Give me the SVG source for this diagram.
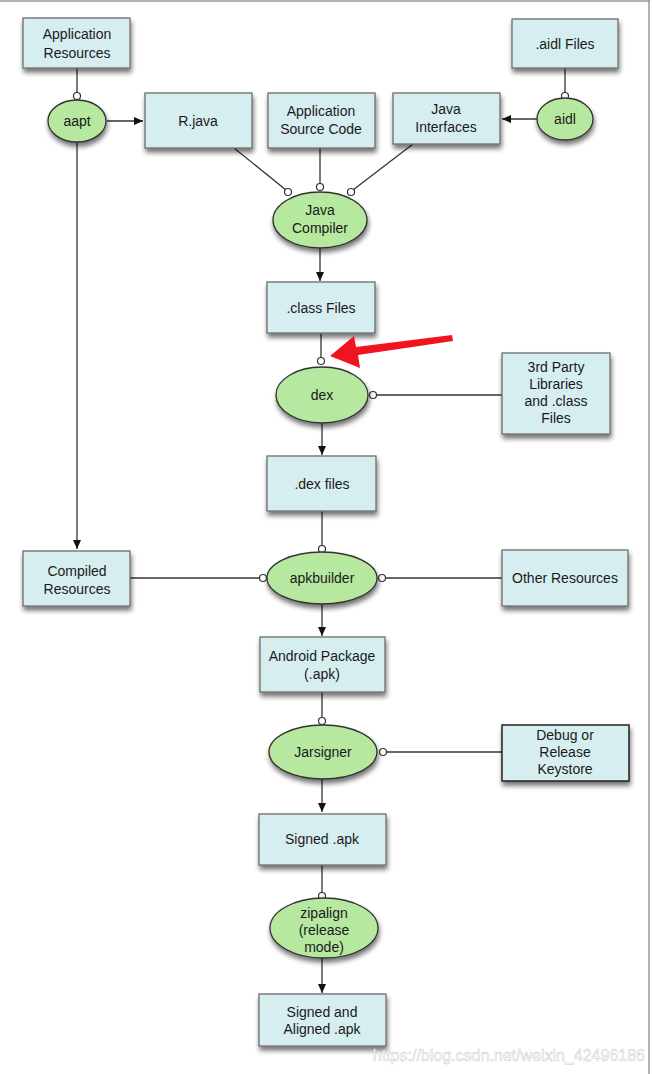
<svg xmlns="http://www.w3.org/2000/svg" width="653" height="1074" viewBox="0 0 653 1074">
<style>
.box{fill:#d7eef0;stroke:#6d6d6d;stroke-width:1.3}
.box2{fill:#d7eef0;stroke:#222;stroke-width:1.5}
.ell{fill:#b6e8a0;stroke:#333;stroke-width:1.3}
.t{font-family:"Liberation Sans",Arial,sans-serif;font-size:14px;fill:#1a1a1a;text-anchor:middle}
.ln{stroke:#333;stroke-width:1.3;fill:none}
.dot{fill:#fff;stroke:#333;stroke-width:1.2}
.wm{font-family:"Liberation Sans",Arial,sans-serif;font-size:16px;fill:#fff;stroke:#ccc;stroke-width:0.5}
</style>
<defs>
<filter id="sh" x="-20%" y="-20%" width="150%" height="160%">
<feGaussianBlur in="SourceAlpha" stdDeviation="2.5"/>
<feOffset dx="1" dy="4" result="b"/>
<feComponentTransfer><feFuncA type="linear" slope="0.55"/></feComponentTransfer>
<feMerge><feMergeNode/><feMergeNode in="SourceGraphic"/></feMerge>
</filter>
<marker id="arr" markerWidth="10" markerHeight="10" refX="9" refY="5" orient="auto" markerUnits="userSpaceOnUse">
<path d="M0,1 L9,5 L0,9 Z" fill="#111"/>
</marker>
</defs>
<rect width="653" height="1074" fill="#fff"/>
<line x1="0" y1="1" x2="650" y2="1" stroke="#999" stroke-width="1.5"/>
<line x1="649" y1="0" x2="649" y2="1074" stroke="#999" stroke-width="1.5"/>

<g id="connectors">
<line class="ln" x1="77" y1="68" x2="77" y2="93"/>
<line class="ln" x1="107" y1="121" x2="143" y2="121" marker-end="url(#arr)"/>
<line class="ln" x1="77" y1="142" x2="77" y2="549" marker-end="url(#arr)"/>
<line class="ln" x1="565" y1="68" x2="565" y2="93"/>
<line class="ln" x1="537" y1="119" x2="502" y2="119" marker-end="url(#arr)"/>
<line class="ln" x1="234" y1="148" x2="286" y2="190"/>
<line class="ln" x1="320" y1="148" x2="320" y2="184"/>
<line class="ln" x1="413" y1="144" x2="353" y2="190"/>
<line class="ln" x1="320" y1="248" x2="320" y2="281" marker-end="url(#arr)"/>
<line class="ln" x1="321" y1="333" x2="321" y2="358"/>
<line class="ln" x1="377" y1="395" x2="502" y2="395"/>
<line class="ln" x1="322" y1="423" x2="322" y2="455" marker-end="url(#arr)"/>
<line class="ln" x1="322" y1="511" x2="322" y2="546"/>
<line class="ln" x1="130" y1="578" x2="260" y2="578"/>
<line class="ln" x1="386" y1="578" x2="502" y2="578"/>
<line class="ln" x1="322" y1="604" x2="322" y2="636" marker-end="url(#arr)"/>
<line class="ln" x1="322" y1="692" x2="322" y2="718"/>
<line class="ln" x1="387" y1="752" x2="502" y2="752"/>
<line class="ln" x1="322" y1="779" x2="322" y2="812" marker-end="url(#arr)"/>
<line class="ln" x1="322" y1="865" x2="322" y2="893"/>
<line class="ln" x1="322" y1="958" x2="322" y2="993" marker-end="url(#arr)"/>
<circle class="dot" cx="77" cy="96" r="3.5"/>
<circle class="dot" cx="565" cy="96" r="3.5"/>
<circle class="dot" cx="288" cy="192" r="3.5"/>
<circle class="dot" cx="320" cy="187" r="3.5"/>
<circle class="dot" cx="351" cy="192" r="3.5"/>
<circle class="dot" cx="321" cy="361" r="3.5"/>
<circle class="dot" cx="373" cy="395" r="3.5"/>
<circle class="dot" cx="322" cy="549" r="3.5"/>
<circle class="dot" cx="263" cy="578" r="3.5"/>
<circle class="dot" cx="382" cy="578" r="3.5"/>
<circle class="dot" cx="322" cy="721" r="3.5"/>
<circle class="dot" cx="383" cy="752" r="3.5"/>
<circle class="dot" cx="322" cy="896" r="3.5"/>
</g>

<g id="app-resources"><rect class="box" x="23" y="18" width="107" height="50" filter="url(#sh)"/><text class="t" x="77" y="39">Application</text><text class="t" x="77" y="58">Resources</text></g>

<g id="aapt"><ellipse class="ell" cx="77" cy="121" rx="29" ry="21" filter="url(#sh)"/><text class="t" x="77" y="126">aapt</text></g>

<g id="rjava"><rect class="box" x="145" y="93" width="107" height="55" filter="url(#sh)"/><text class="t" x="198" y="126">R.java</text></g>

<g id="app-source"><rect class="box" x="268" y="93" width="107" height="55" filter="url(#sh)"/><text class="t" x="321" y="116">Application</text><text class="t" x="321" y="134">Source Code</text></g>

<g id="java-interfaces"><rect class="box" x="393" y="93" width="107" height="51" filter="url(#sh)"/><text class="t" x="446" y="114">Java</text><text class="t" x="446" y="132">Interfaces</text></g>

<g id="aidl-files"><rect class="box" x="512" y="19" width="106" height="49" filter="url(#sh)"/><text class="t" x="565" y="49">.aidl Files</text></g>

<g id="aidl"><ellipse class="ell" cx="565" cy="119" rx="28" ry="21" filter="url(#sh)"/><text class="t" x="565" y="124">aidl</text></g>

<g id="java-compiler"><ellipse class="ell" cx="320" cy="220" rx="47" ry="28" filter="url(#sh)"/><text class="t" x="320" y="215">Java</text><text class="t" x="320" y="233">Compiler</text></g>

<g id="class-files"><rect class="box" x="267" y="282" width="108" height="51" filter="url(#sh)"/><text class="t" x="321" y="313">.class Files</text></g>

<g id="dex"><ellipse class="ell" cx="322" cy="395" rx="46" ry="28" filter="url(#sh)"/><text class="t" x="322" y="400">dex</text></g>

<g id="third-party"><rect class="box" x="502" y="353" width="108" height="81" filter="url(#sh)"/><text class="t" x="556" y="372">3rd Party</text><text class="t" x="556" y="389">Libraries</text><text class="t" x="556" y="406">and .class</text><text class="t" x="556" y="423">Files</text></g>

<g id="dex-files"><rect class="box" x="267" y="456" width="109" height="55" filter="url(#sh)"/><text class="t" x="322" y="489">.dex files</text></g>

<g id="compiled-resources"><rect class="box" x="23" y="551" width="107" height="55" filter="url(#sh)"/><text class="t" x="77" y="576">Compiled</text><text class="t" x="77" y="594">Resources</text></g>

<g id="apkbuilder"><ellipse class="ell" cx="322" cy="578" rx="55" ry="26" filter="url(#sh)"/><text class="t" x="322" y="583">apkbuilder</text></g>

<g id="other-resources"><rect class="box" x="502" y="550" width="126" height="56" filter="url(#sh)"/><text class="t" x="565" y="583">Other Resources</text></g>

<g id="android-package"><rect class="box" x="260" y="637" width="125" height="55" filter="url(#sh)"/><text class="t" x="322" y="661">Android Package</text><text class="t" x="322" y="679">(.apk)</text></g>

<g id="jarsigner"><ellipse class="ell" cx="323" cy="752" rx="54" ry="27" filter="url(#sh)"/><text class="t" x="323" y="757">Jarsigner</text></g>

<g id="keystore"><rect class="box2" x="502" y="725" width="127" height="56" filter="url(#sh)"/><text class="t" x="565" y="740">Debug or</text><text class="t" x="565" y="757">Release</text><text class="t" x="565" y="774">Keystore</text></g>

<g id="signed-apk"><rect class="box" x="259" y="814" width="127" height="51" filter="url(#sh)"/><text class="t" x="322" y="844">Signed .apk</text></g>

<g id="zipalign"><ellipse class="ell" cx="324" cy="928" rx="54" ry="30" filter="url(#sh)"/><text class="t" x="324" y="918">zipalign</text><text class="t" x="324" y="935">(release</text><text class="t" x="324" y="952">mode)</text></g>

<g id="signed-aligned"><rect class="box" x="259" y="994" width="127" height="52" filter="url(#sh)"/><text class="t" x="322" y="1017">Signed and</text><text class="t" x="322" y="1034">Aligned .apk</text></g>

<g id="red-arrow"><polygon points="452,335 453,341 358,355 360,368 330,356 354,336 356,347" fill="#f0141e"/></g>

<text class="wm" x="645" y="1061" text-anchor="end">https://blog.csdn.net/weixin_42496186</text>
</svg>
